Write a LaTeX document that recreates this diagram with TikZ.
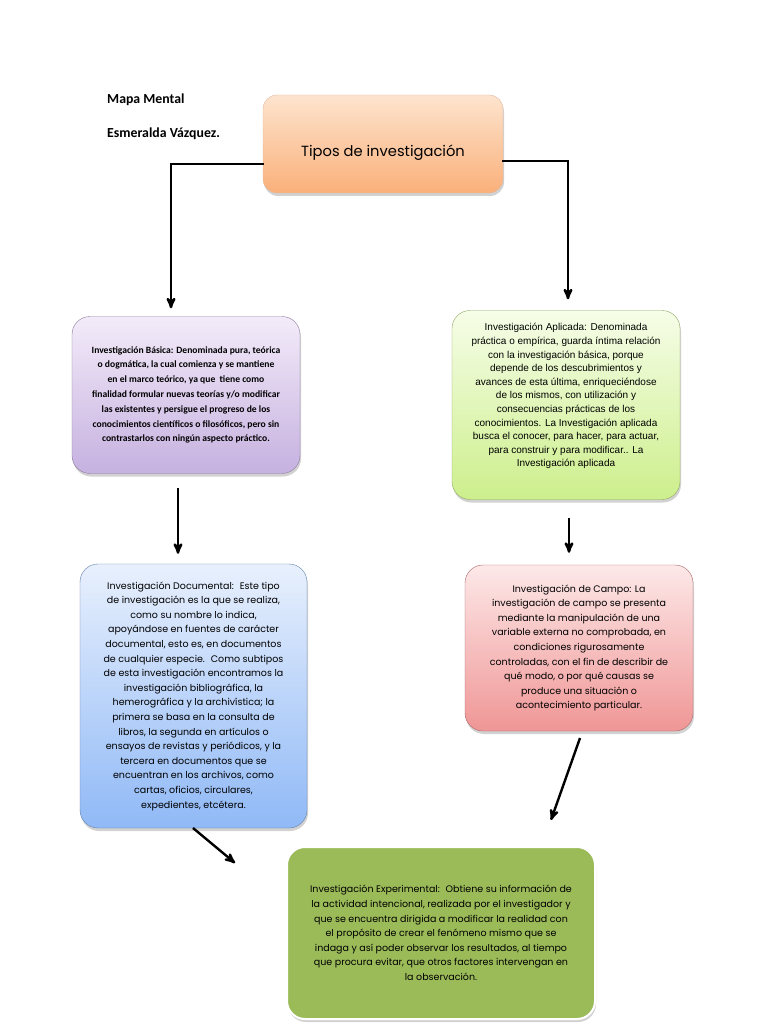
\documentclass[tikz,border=0pt]{standalone}
\usepackage{fontspec}
\usepackage{tikz}
\usetikzlibrary{calc,arrows,shadows}
\newfontfamily\carlito{Carlito}
\newfontfamily\arialf{Liberation Sans}
\newfontfamily\gothic{Poppins}
\definecolor{orangetop}{HTML}{FDE4CE}
\definecolor{orangebot}{HTML}{FAB07A}
\definecolor{lilatop}{HTML}{F3EBF9}
\definecolor{lilabot}{HTML}{C6B1E0}
\definecolor{limatop}{HTML}{F6FDE8}
\definecolor{limabot}{HTML}{CDEF8C}
\definecolor{azultop}{HTML}{E8F0FD}
\definecolor{azulbot}{HTML}{90B9F6}
\definecolor{rojotop}{HTML}{FDE8E8}
\definecolor{rojobot}{HTML}{F09696}
\definecolor{olivo}{HTML}{9BBB59}
\tikzset{
  caja/.style={rounded corners=18pt,align=center,inner sep=0pt,
    drop shadow={shadow xshift=1pt,shadow yshift=-3pt,opacity=0.35}},
  textogothic/.style={font=\gothic\fontsize{9.5}{14.6}\selectfont},
  flecha/.style={-stealth',line width=2.4pt,black},
}
\begin{document}
\begin{tikzpicture}[x=1pt,y=-1pt]
                      \useasboundingbox[fill=white] (0,0) rectangle (768,1024);
                      \node[anchor=west,inner sep=0pt,font=\carlito\bfseries\fontsize{13.8}{16}\selectfont](mapa)at(107,100){Mapa Mental};
                      \node[anchor=west,inner sep=0pt,font=\carlito\bfseries\fontsize{13.8}{16}\selectfont](autora)at(107,134){Esmeralda Vázquez.};
                      \node[caja,rounded corners=14pt,draw=orangebot!80!black!60,top color=orangetop,bottom color=orangebot,minimum width=240,minimum height=98,text height=29pt,text depth=3pt,font=\gothic\fontsize{14.7}{17}\selectfont](tipos)at(383,144){Tipos de investigación};
                      \node[caja,draw=lilabot!70!black,top color=lilatop,bottom color=lilabot,minimum width=228,minimum height=157,font=\carlito\bfseries\fontsize{9.6}{14.8}\selectfont](basica)at(186,395){Investigación Básica: Denominada pura, teórica\\ o dogmática, la cual comienza y se mantiene\\ en el marco teórico, ya que~ tiene como\\ finalidad formular nuevas teorías y/o modificar\\ las existentes y persigue el progreso de los\\ conocimientos científicos o filosóficos, pero sin\\ contrastarlos con ningún aspecto práctico.};
                      \node[caja,draw=limabot!70!black,top color=limatop,bottom color=limabot,minimum width=228,minimum height=189,font=\arialf\fontsize{10}{13.6}\selectfont](aplicada)at(566,405){Investigación Aplicada: Denominada\\ práctica o empírica, guarda íntima relación\\ con la investigación básica, porque\\ depende de los descubrimientos y\\ avances de esta última, enriqueciéndose\\ de los mismos, con utilización y\\ consecuencias prácticas de los\\ conocimientos. La Investigación aplicada\\ busca el conocer, para hacer, para actuar,\\ para construir y para modificar.. La\\ Investigación aplicada\\[6pt]};
                      \node[caja,textogothic,draw=azulbot!70!black,top color=azultop,bottom color=azulbot,minimum width=227,minimum height=264](documental)at(193.5,696){Investigación Documental:~ Este tipo\\ de investigación es la que se realiza,\\ como su nombre lo indica,\\ apoyándose en fuentes de carácter\\ documental, esto es, en documentos\\ de cualquier especie.~ Como subtipos\\ de esta investigación encontramos la\\ investigación bibliográfica, la\\ hemerográfica y la archivística; la\\ primera se basa en la consulta de\\ libros, la segunda en artículos o\\ ensayos de revistas y periódicos, y la\\ tercera en documentos que se\\ encuentran en los archivos, como\\ cartas, oficios, circulares,\\ expedientes, etcétera.};
                      \node[caja,textogothic,draw=rojobot!70!black,top color=rojotop,bottom color=rojobot,minimum width=228,minimum height=166](campo)at(579,648){Investigación de Campo: La\\ investigación de campo se presenta\\ mediante la manipulación de una\\ variable externa no comprobada, en\\ condiciones rigurosamente\\ controladas, con el fin de describir de\\ qué modo, o por qué causas se\\ produce una situación o\\ acontecimiento particular.};
                      \node[caja,textogothic,draw=white,line width=2pt,fill=olivo,minimum width=308,minimum height=172](experimental)at(441,933){Investigación Experimental:~ Obtiene su información de\\ la actividad intencional, realizada por el investigador y\\ que se encuentra dirigida a modificar la realidad con\\ el propósito de crear el fenómeno mismo que se\\ indaga y así poder observar los resultados, al tiempo\\ que procura evitar, que otros factores intervengan en\\ la observación.};
                      \coordinate (codoizq) at (171,164);
                      \coordinate (cododer) at (568,161);
                      \draw[flecha,line cap=rect] (tipos.west |- codoizq) -- (codoizq) -- ($(basica.north -| codoizq)+(0,-8)$);
                      \draw[flecha,line cap=rect] (tipos.east |- cododer) -- (cododer) -- ($(aplicada.north -| cododer)+(0,-11)$);
                      \coordinate (a1) at (178,488);
                      \coordinate (a2) at (569,518);
                      \draw[flecha] (a1) -- ($(a1 |- documental.north)+(0,-10)$);
                      \draw[flecha] (a2) -- ($(a2 |- campo.north)+(0,-12)$);
                      \coordinate (d1) at (193,828);
                      \coordinate (d2) at (235,863);
                      \coordinate (c1) at (580,738);
                      \coordinate (c2) at (551,820);
                      \draw[flecha] (d1) -- (d2);
                      \draw[flecha] (c1) -- (c2);
                  \end{tikzpicture}
\end{document}
